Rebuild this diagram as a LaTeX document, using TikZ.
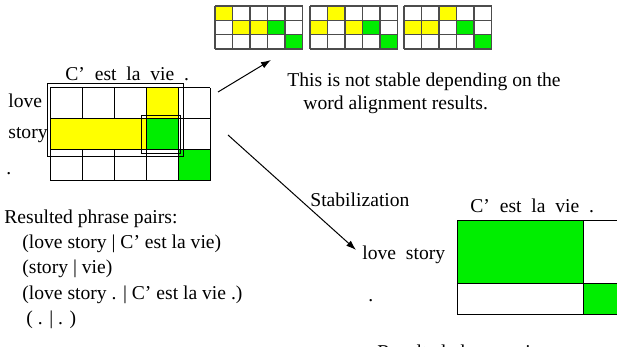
\documentclass[tikz,border=0pt]{standalone}
\usepackage{fontspec}
\setmainfont{Liberation Serif}
\usetikzlibrary{arrows.meta}

\definecolor{algyellow}{RGB}{255,255,0}
\definecolor{alggreen}{RGB}{0,238,0}

\begin{document}
\begin{tikzpicture}[x=0.5pt,y=-0.5pt,
    lbl/.style={inner sep=0pt,anchor=base west,font=\fontsize{9.8}{12}\selectfont},
    cellline/.style={draw=black,line width=0.5pt},
    minigrid/.style={gray!60!black,line width=0.6pt},
    pointer/.style={line width=0.5pt,-{Latex[length=5pt,width=3.4pt]}}]
  \useasboundingbox (0,0) rectangle (617,347);
  \clip (0,0) rectangle (617,347);

  % alignment matrix with extracted phrases
  \fill[algyellow] (146,88) rectangle (178,119);
  \fill[alggreen] (146,119) rectangle (178,150);
  \fill[alggreen] (178,150) rectangle (210,181);
  \foreach \i in {0,...,5} \draw[cellline] (50+\i*32,88) -- ++(0,93);
  \foreach \j in {0,...,3} \draw[cellline] (50,88+\j*31) -- ++(160,0);
  \filldraw[cellline,fill=algyellow] (50,119) rectangle (146,150);
  \draw[cellline] (47,84) rectangle (183,157);
  \draw[cellline] (141,116) rectangle (180,154);

  \node[lbl] (lhead) at (65,81) {C'\ \ est\ \ la\ \ vie\ \ .};
  \node[lbl] (llove) at (8,108) {love};
  \node[lbl] (lstory) at (8,139) {story};
  \node[lbl] (ldot) at (6,175) {.};

  % three other alignments of the same pair
  \foreach \gx/\ylist in {215/{1/1,2/2,3/2},310/{2/1,1/2,3/2},404/{3/1,1/2,2/2}} {
    \foreach \c/\r in \ylist
      \fill[algyellow] (\gx+\c*17.5-17.5,6+\r*14.3-14.3) rectangle ++(17.5,14.3);
    \fill[alggreen] (\gx+52.5,20.3) rectangle ++(17.5,14.3);
    \fill[alggreen] (\gx+70,34.6) rectangle ++(17.5,14.4);
    \foreach \i in {0,...,5} \draw[minigrid] (\gx+\i*17.5,6) -- ++(0,43);
    \foreach \j in {0,...,3} \draw[minigrid] (\gx,6+\j*14.33) -- ++(87.5,0);
  }

  \node[lbl] (note1) at (287,87) {This is not stable depending on the};
  \node[lbl] (note2) at (303,110) {word alignment results.};

  \node[lbl] (pairs) at (4,224) {Resulted phrase pairs:};
  \node[lbl] (pair1) at (22,249) {(love story | C' est la vie)};
  \node[lbl] (pair2) at (22,274) {(story | vie)};
  \node[lbl] (pair3) at (22,300) {(love story . | C' est la vie .)};
  \node[lbl] (pair4) at (26,325) {( . | . )};

  % stabilized alignment
  \node[lbl] (stab) at (310,207) {Stabilization};
  \node[lbl] (rhead) at (470,213) {C'\ \ est\ \ la\ \ vie\ \ .};
  \node[lbl] (rlove) at (362,260) {love\ \ story};
  \node[lbl] (rdot) at (368,302) {.};
  \fill[alggreen] (457,221) rectangle (583,284);
  \fill[alggreen] (583,284) rectangle (625,315);
  \draw[cellline] (457,221) rectangle (625,315);
  \draw[cellline] (457,284) -- (625,284);
  \draw[cellline] (583,221) -- (583,315);

  \node[lbl] (rpairs) at (377,359) {Resulted phrase pairs};

  \coordinate (upfrom) at (218,92);
  \coordinate (upto) at (271,60);
  \coordinate (downfrom) at (228,135);
  \draw[pointer] (upfrom) -- (upto);
  \draw[pointer,shorten >=4pt] (downfrom) -- (rlove.west);
\end{tikzpicture}
\end{document}
